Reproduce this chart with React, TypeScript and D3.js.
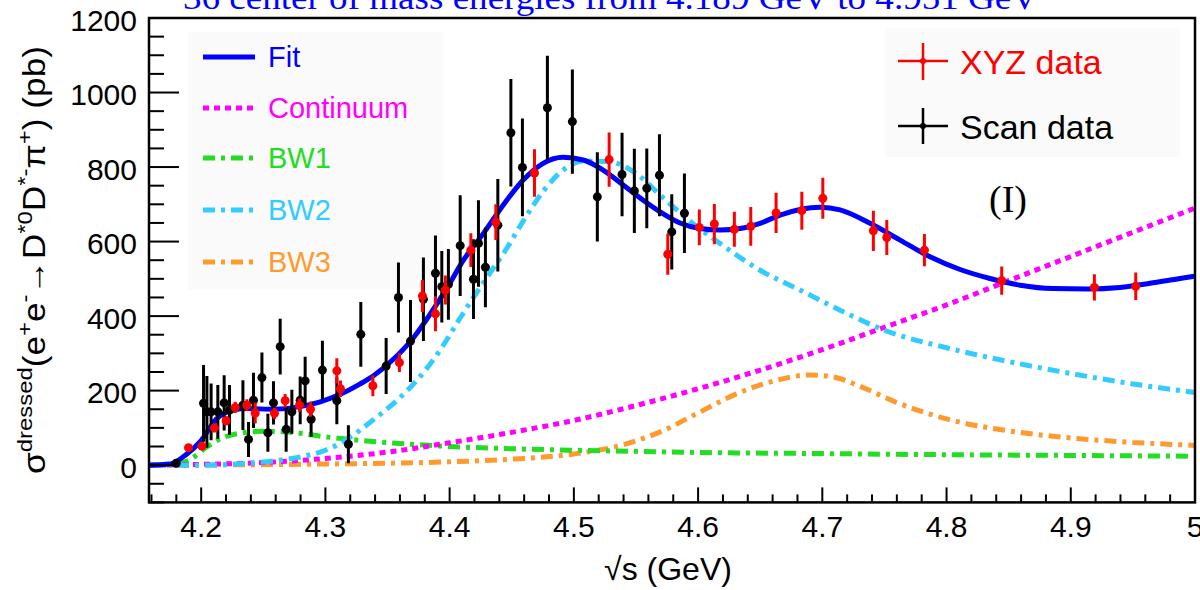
import React from 'react';
import * as d3 from 'd3';

// ---------- data ----------
const xyzE = [4.1898, 4.2006, 4.2107, 4.2201, 4.2274, 4.2368, 4.2435, 4.259, 4.2676, 4.2791, 4.288, 4.3092, 4.3121, 4.3382, 4.3596, 4.3781, 4.3886, 4.3966, 4.4171, 4.4372, 4.4683, 4.5284, 4.5756, 4.601, 4.6131, 4.6292, 4.6424, 4.6628, 4.6835, 4.7004, 4.7411, 4.7519, 4.7822, 4.8444, 4.919, 4.9523];
const xyzV = [47, 51, 100, 119, 155, 161, 140, 139, 173, 161, 150, 253, 205, 213, 275, 454, 406, 470, 577, 652, 784, 820, 566, 638, 647, 633, 641, 677, 683, 716, 629, 611, 577, 495, 477, 480];
const xyzErr = [6, 8, 12, 12, 15, 16, 28, 15, 18, 18, 20, 34, 22, 28, 25, 43, 47, 39, 45, 48, 64, 73, 55, 48, 54, 47, 52, 54, 51, 55, 54, 47, 43, 38, 35, 37];

const scanE = [4.1799, 4.2019, 4.2046, 4.208, 4.2134, 4.2185, 4.2228, 4.2336, 4.2381, 4.2421, 4.2489, 4.2537, 4.2582, 4.2636, 4.2684, 4.273, 4.2797, 4.2837, 4.2885, 4.2976, 4.3092, 4.3185, 4.3285, 4.3489, 4.3588, 4.3685, 4.3789, 4.3886, 4.3937, 4.399, 4.4085, 4.4192, 4.4232, 4.4288, 4.4388, 4.4493, 4.4586, 4.4787, 4.4988, 4.5189, 4.5388, 4.5487, 4.5587, 4.5689, 4.5788, 4.589];
const scanV = [5, 166, 143, 143, 143, 167, 148, 161, 69, 174, 235, 87, 167, 318, 96, 143, 174, 226, 123, 255, 173, 56, 351, 266, 450, 333, 445, 515, 479, 485, 589, 499, 595, 531, 644, 892, 799, 959, 922, 720, 780, 736, 743, 778, 626, 676];
const scanErr = [8, 103, 96, 76, 72, 74, 67, 67, 47, 74, 67, 51, 58, 75, 60, 59, 64, 65, 47, 79, 63, 51, 87, 75, 94, 110, 112, 101, 96, 95, 135, 107, 116, 107, 124, 144, 131, 140, 140, 120, 112, 113, 107, 110, 101, 107];

const fitE = [4.158, 4.175, 4.1885, 4.199, 4.2126, 4.2259, 4.2368, 4.258, 4.2797, 4.2958, 4.3119, 4.328, 4.3387, 4.3575, 4.3709, 4.3843, 4.3978, 4.4111, 4.4272, 4.446, 4.4592, 4.4753, 4.4914, 4.5075, 4.5236, 4.5397, 4.5558, 4.5694, 4.5855, 4.6016, 4.6177, 4.6338, 4.6499, 4.666, 4.6821, 4.6982, 4.7143, 4.7384, 4.7626, 4.7867, 4.8109, 4.835, 4.8592, 4.8857, 4.9131, 4.9396, 4.9638, 4.9879, 5.0];
const fitV = [0, 3, 30, 62, 125, 148, 152, 150, 157, 170, 190, 218, 240, 293, 342, 405, 475, 550, 622, 711, 765, 810, 826, 819, 792, 752, 711, 680, 650, 635, 631, 635, 649, 671, 686, 692, 685, 649, 604, 559, 525, 501, 483, 474, 473, 477, 488, 501, 507];

const contE = [4.158, 4.2, 4.25, 4.3, 4.35, 4.4, 4.45, 4.5, 4.55, 4.6, 4.65, 4.7, 4.75, 4.8, 4.85, 4.9, 4.95, 5.0];
const contV = [0, 2, 7, 18, 35, 60, 88, 120, 160, 205, 255, 310, 370, 430, 495, 560, 625, 690];

const bw1E = [4.158, 4.175, 4.19, 4.205, 4.215, 4.23, 4.25, 4.27, 4.3, 4.33, 4.36, 4.4, 4.45, 4.5, 4.55, 4.6, 4.7, 4.8, 4.9, 5.0];
const bw1V = [0, 1, 13, 50, 70, 85, 91, 89, 76, 66, 58, 50, 44, 40, 37, 34, 31, 28, 26, 24];

const bw2E = [4.158, 4.2, 4.23, 4.26, 4.28, 4.3, 4.31, 4.32, 4.336, 4.3576, 4.3737, 4.3924, 4.4085, 4.4272, 4.446, 4.4592, 4.4753, 4.4914, 4.5075, 4.5289, 4.55, 4.5694, 4.5935, 4.6177, 4.6499, 4.682, 4.7143, 4.75, 4.8, 4.85, 4.9, 4.95, 5.0];
const bw2V = [0, 0, 3, 12, 22, 40, 55, 75, 115, 174, 228, 309, 395, 490, 582, 655, 735, 792, 816, 814, 783, 725, 655, 595, 523, 470, 416, 362, 315, 278, 246, 218, 195];

const bw3E = [4.158, 4.3, 4.4, 4.45, 4.5, 4.54, 4.57, 4.6, 4.63, 4.66, 4.69, 4.71, 4.73, 4.76, 4.8, 4.85, 4.9, 4.95, 5.0];
const bw3V = [0, 3, 9, 16, 30, 55, 90, 140, 190, 225, 242, 236, 212, 168, 124, 92, 73, 61, 53];

const xTicks = [4.2, 4.3, 4.4, 4.5, 4.6, 4.7, 4.8, 4.9, 5.0];
const xTickLabels = ['4.2', '4.3', '4.4', '4.5', '4.6', '4.7', '4.8', '4.9', '5'];
const yTicks = [0, 200, 400, 600, 800, 1000, 1200];
const yTickLabels = ['0', '200', '400', '600', '800', '1000', '1200'];

const legendLabels = ['Fit', 'Continuum', 'BW1', 'BW2', 'BW3'];

// ---------- styles ----------
const BLUE = '#0000ff';
const MAGENTA = '#ff00ff';
const GREEN = '#22dd22';
const CYAN = '#33ccff';
const ORANGE = '#ff9a2e';
const RED = '#ff0000';
const SANS = "'Liberation Sans', Arial, Helvetica, sans-serif";
const SERIF = "'Liberation Serif', 'Times New Roman', serif";

const curveStyles = [
  { color: BLUE, dash: undefined as string | undefined, width: 5 },
  { color: MAGENTA, dash: '6 5', width: 5 },
  { color: GREEN, dash: '12 6 4 6', width: 5 },
  { color: CYAN, dash: '12 6 4 6', width: 5 },
  { color: ORANGE, dash: '12 6 4 6', width: 5 },
];

export default function App() {
  const L = 149, R = 1195, T = 18, B = 502.4;
  const x = d3.scaleLinear().domain([4.158, 5.0]).range([L, R]);
  const y = d3.scaleLinear().domain([-100, 1200]).range([B, T]);

  const path = (E: number[], V: number[]) =>
    d3.line<number>().x((_, i) => x(E[i])).y((_, i) => y(V[i])).curve(d3.curveMonotoneX)(E) || '';

  const curves = [
    { d: path(bw3E, bw3V), s: curveStyles[4] },
    { d: path(bw1E, bw1V), s: curveStyles[2] },
    { d: path(contE, contV), s: curveStyles[1] },
    { d: path(bw2E, bw2V), s: curveStyles[3] },
    { d: path(fitE, fitV), s: curveStyles[0] },
  ];

  const xMinor = d3.range(4.16, 5.0001, 0.02).filter(v => !xTicks.some(t => Math.abs(t - v) < 1e-6));
  const yMinor = d3.range(-100, 1200.1, 50).filter(v => !yTicks.includes(v));

  const legendY = [57, 108, 158, 210, 262];

  return (
    <svg width={1200} height={590} style={{ position: 'absolute', left: 0, top: 0, background: '#fff' }} fontFamily={SANS}>
      <defs>
        <clipPath id="plotclip">
          <rect x={L} y={T} width={R - L} height={B - T} />
        </clipPath>
      </defs>
      <rect x={0} y={0} width={1200} height={590} fill="#fff" />

      {/* clipped top title */}
      <text x={183} y={9} fontFamily={SERIF} fontSize={34} fill={BLUE} textLength={855} lengthAdjust="spacingAndGlyphs">
        36 center of mass energies from 4.189 GeV to 4.951 GeV
      </text>

      {/* legend boxes */}
      <rect x={188} y={32} width={255} height={258} fill="#fafafa" />
      <rect x={885} y={28} width={295} height={129} fill="#fafafa" />

      <g clipPath="url(#plotclip)">
        {curves.map((c, i) => (
          <path key={i} d={c.d} fill="none" stroke={c.s.color} strokeWidth={c.s.width} strokeDasharray={c.s.dash} />
        ))}
        {scanE.map((e, i) => (
          <g key={'s' + i}>
            <line x1={x(e)} x2={x(e)} y1={y(scanV[i] - scanErr[i])} y2={y(scanV[i] + scanErr[i])} stroke="#000" strokeWidth={3} />
            <circle cx={x(e)} cy={y(scanV[i])} r={4.5} fill="#000" />
          </g>
        ))}
        {xyzE.map((e, i) => (
          <g key={'x' + i}>
            <line x1={x(e)} x2={x(e)} y1={y(xyzV[i] - xyzErr[i])} y2={y(xyzV[i] + xyzErr[i])} stroke={RED} strokeWidth={3} />
            <circle cx={x(e)} cy={y(xyzV[i])} r={4.5} fill={RED} />
          </g>
        ))}
      </g>

      {/* frame */}
      <rect x={L} y={T} width={R - L} height={B - T} fill="none" stroke="#000" strokeWidth={2.5} />

      {/* x ticks */}
      {xTicks.map(t => (
        <line key={'xt' + t} x1={x(t)} x2={x(t)} y1={B} y2={B - 15} stroke="#000" strokeWidth={2} />
      ))}
      {xMinor.map(t => (
        <line key={'xm' + t} x1={x(t)} x2={x(t)} y1={B} y2={B - 8} stroke="#000" strokeWidth={2} />
      ))}
      {xTicks.map((t, i) => (
        <text key={'xl' + t} x={x(t)} y={537} textAnchor="middle" fontSize={30} fill="#000">{xTickLabels[i]}</text>
      ))}

      {/* y ticks */}
      {yTicks.map(t => (
        <line key={'yt' + t} x1={L} x2={L + 30} y1={y(t)} y2={y(t)} stroke="#000" strokeWidth={2} />
      ))}
      {yMinor.map(t => (
        <line key={'ym' + t} x1={L} x2={L + 15} y1={y(t)} y2={y(t)} stroke="#000" strokeWidth={2} />
      ))}
      {yTicks.map((t, i) => (
        <text key={'yl' + t} x={137} y={y(t) + 2} textAnchor="end" dominantBaseline="central" fontSize={30} fill="#000">{yTickLabels[i]}</text>
      ))}

      {/* axis titles */}
      <text x={668} y={580} textAnchor="middle" fontSize={32} fill="#000">√s (GeV)</text>
      <text transform="translate(45,260) rotate(-90)" textAnchor="middle" fontSize={31} fill="#000"
        textLength={428} lengthAdjust="spacingAndGlyphs">
        <tspan>σ</tspan>
        <tspan fontSize={21} dy={-13}>dressed</tspan>
        <tspan dy={13}>(e</tspan>
        <tspan fontSize={21} dy={-13}>+</tspan>
        <tspan dy={13}>e</tspan>
        <tspan fontSize={21} dy={-13}>-</tspan>
        <tspan dy={13}>→D</tspan>
        <tspan fontSize={21} dy={-13}>*0</tspan>
        <tspan dy={13}>D</tspan>
        <tspan fontSize={21} dy={-13}>*-</tspan>
        <tspan dy={13}>π</tspan>
        <tspan fontSize={21} dy={-13}>+</tspan>
        <tspan dy={13}>) (pb)</tspan>
      </text>

      {/* left legend */}
      {legendLabels.map((lab, i) => (
        <g key={lab}>
          <line x1={203} x2={255} y1={legendY[i]} y2={legendY[i]} stroke={curveStyles[i].color} strokeWidth={5}
            strokeDasharray={curveStyles[i].dash} />
          <text x={268} y={legendY[i]} dominantBaseline="central" fontSize={29} fill={curveStyles[i].color}>{lab}</text>
        </g>
      ))}

      {/* right legend */}
      <line x1={898} x2={948} y1={61} y2={61} stroke={RED} strokeWidth={2.5} />
      <line x1={923} x2={923} y1={43} y2={80} stroke={RED} strokeWidth={2.5} />
      <circle cx={923} cy={61} r={3} fill={RED} />
      <text x={960} y={62} dominantBaseline="central" fontSize={34} fill={RED}>XYZ data</text>
      <line x1={898} x2={948} y1={126} y2={126} stroke="#000" strokeWidth={2.5} />
      <line x1={923} x2={923} y1={108} y2={144} stroke="#000" strokeWidth={2.5} />
      <circle cx={923} cy={126} r={3} fill="#000" />
      <text x={960} y={127} dominantBaseline="central" fontSize={34} fill="#000">Scan data</text>

      <text x={1008} y={212} textAnchor="middle" fontFamily={SERIF} fontSize={38} fill="#000">(I)</text>
    </svg>
  );
}
